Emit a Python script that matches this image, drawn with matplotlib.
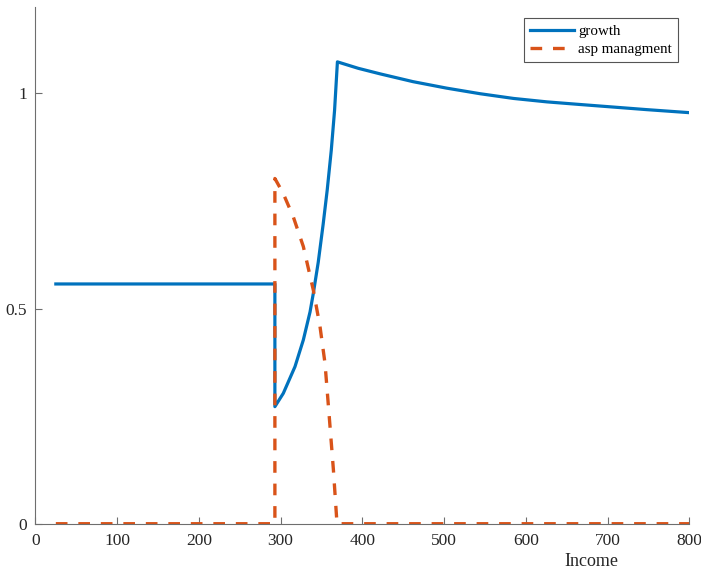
import matplotlib
matplotlib.use("Agg")
import matplotlib.pyplot as plt

plt.rcParams['font.family'] = ['Liberation Serif', 'DejaVu Serif']
plt.rcParams['lines.scale_dashes'] = False

# growth series (income, value)
growth_x = [25, 293, 293, 303.3, 317.6, 327.8, 336, 340, 346, 352, 357, 362, 366, 369.5,
            395, 422, 462, 503, 544, 585, 626, 666, 707, 748, 800]
growth_y = [0.557, 0.557, 0.272, 0.303, 0.365, 0.427, 0.492, 0.535, 0.607, 0.695, 0.775, 0.868, 0.96, 1.073,
            1.058, 1.045, 1.027, 1.012, 0.999, 0.988, 0.980, 0.974, 0.968, 0.962, 0.955]

# asp managment series
asp_x = [25, 293, 293, 303, 315.5, 327.8, 340, 348.2, 354.3, 359.5, 364.6, 369, 800]
asp_y = [0, 0, 0.802, 0.768, 0.713, 0.644, 0.543, 0.458, 0.373, 0.249, 0.125, 0, 0]

xticks = [0, 100, 200, 300, 400, 500, 600, 700, 800]
yticks = [0, 0.5, 1]
ytick_labels = ['0', '0.5', '1']

fig = plt.figure(figsize=(7.01, 5.71), dpi=100)
ax = fig.add_axes([0.0505, 0.0828, 0.9328, 0.9046])

ax.plot(growth_x, growth_y, color='#0072BD', lw=2.3, label='growth')
ax.plot(asp_x, asp_y, color='#D95319', lw=2.4, dashes=(8.4, 7.8), label='asp managment')

ax.set_xlim(0, 800)
ax.set_ylim(0, 1.2)
ax.set_xticks(xticks)
ax.set_yticks(yticks)
ax.set_yticklabels(ytick_labels)

for s in ['top', 'right']:
    ax.spines[s].set_visible(False)
for s in ['left', 'bottom']:
    ax.spines[s].set_color('#6e6e6e')
    ax.spines[s].set_linewidth(0.8)

ax.tick_params(axis='both', direction='in', length=5, width=0.8, color='#6e6e6e',
               labelsize=12.5, labelcolor='#262626')
ax.tick_params(axis='x', pad=7)
ax.tick_params(axis='y', pad=6)

ax.set_xlabel('Income', fontsize=13, color='#262626')
ax.xaxis.set_label_coords(0.851, -0.056)

leg = ax.legend(loc='upper right', fontsize=10.8, fancybox=False, framealpha=1,
                edgecolor='#555555', handlelength=2.95, handletextpad=0.3,
                borderaxespad=0.75, borderpad=0.4, labelspacing=0.3)
leg.get_frame().set_linewidth(0.8)

fig.savefig('out.png', dpi=100)
